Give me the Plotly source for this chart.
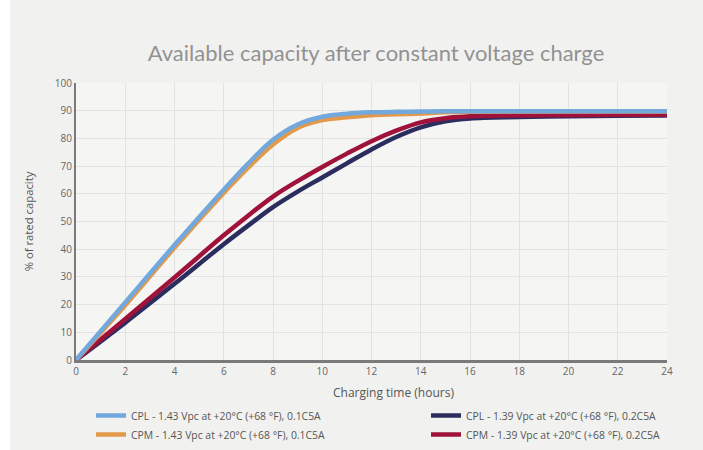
import plotly.graph_objects as go

hours_a = [0, 2, 4, 6, 7, 8, 9, 10, 11, 12, 13, 14, 15, 16, 18, 20, 22, 24]
cpl_143 = [0, 20.8, 41.5, 61.5, 71, 79.5, 85, 87.8, 88.9, 89.4, 89.6, 89.7, 89.8, 89.8, 89.8, 89.8, 89.8, 89.8]
cpm_143 = [0, 19.8, 40.5, 60.3, 69.5, 77.8, 83.8, 86.6, 87.6, 88.4, 88.7, 89.0, 89.4, 89.6, 89.7, 89.7, 89.7, 89.7]

hours_b = [0, 2, 4, 6, 7, 8, 9, 10, 11, 12, 13, 14, 15, 16, 18, 20, 22, 24]
cpl_139 = [0, 13.5, 27.5, 41.8, 48.6, 55.2, 60.8, 65.9, 71, 76, 80.5, 84, 86.2, 87.2, 87.7, 88.0, 88.2, 88.3]
cpm_139 = [0, 14.8, 29.8, 45, 52.2, 59.0, 64.6, 69.7, 74.5, 79, 82.8, 85.8, 87.3, 88.0, 88.3, 88.4, 88.5, 88.5]

names = {
    "cpl_143": "CPL - 1.43 Vpc at +20°C (+68 °F), 0.1C5A",
    "cpm_143": "CPM - 1.43 Vpc at +20°C (+68 °F), 0.1C5A",
    "cpl_139": "CPL - 1.39 Vpc at +20°C (+68 °F), 0.2C5A",
    "cpm_139": "CPM - 1.39 Vpc at +20°C (+68 °F), 0.2C5A",
}
x_ticks = list(range(0, 25, 2))
y_ticks = list(range(0, 101, 10))
x_title = "Charging time (hours)"
y_title = "% of rated capacity"
chart_title = "Available capacity after constant voltage charge"

fig = go.Figure()
def add(x, y, key, color, rank, legend):
    fig.add_trace(go.Scatter(x=x, y=y, mode="lines", name=names[key],
                             line=dict(color=color, width=4.5, shape="spline", smoothing=1.0),
                             legendrank=rank, legend=legend))

add(hours_b, cpl_139, "cpl_139", "#2b2d5e", 1, "legend2")
add(hours_b, cpm_139, "cpm_139", "#a0123a", 2, "legend2")
add(hours_a, cpm_143, "cpm_143", "#e3994a", 2, "legend")
add(hours_a, cpl_143, "cpl_143", "#72a8dc", 1, "legend")

PW, PH = 591, 277
leg_common = dict(orientation="v", xanchor="left", y=(360 - 401) / PH, yanchor="top", itemwidth=30,
                  font=dict(family="Open Sans", size=10.4, color="#555555"), bgcolor="rgba(0,0,0,0)",
                  traceorder="normal")
fig.update_layout(
    width=703, height=450,
    margin=dict(l=76, r=36, t=83, b=90, autoexpand=False),
    paper_bgcolor="#f1f1f0",
    plot_bgcolor="#f5f5f4",
    title=dict(text=chart_title,
               x=376 / 703, xanchor="center", y=1 - 53 / 450, yanchor="middle",
               font=dict(family="Lato", size=22, color="#929292")),
    font=dict(family="Open Sans", color="#666666"),
    xaxis=dict(range=[0, 24], tickvals=x_ticks, showgrid=True, gridcolor="#e2e2e2", gridwidth=1,
               zeroline=False, showline=True, linecolor="#7a7a7a", linewidth=3,
               tickfont=dict(size=10, color="#666666"), ticks=""),
    yaxis=dict(range=[0, 100], tickvals=y_ticks, showgrid=True, gridcolor="#e2e2e2", gridwidth=1,
               zeroline=False, showline=True, linecolor="#7a7a7a", linewidth=2,
               tickfont=dict(size=10, color="#666666"), ticks="",
               title=dict(text=y_title, font=dict(size=11.3, color="#555555"), standoff=19)),
    legend=dict(x=(91 - 76) / PW, **leg_common),
    legend2=dict(x=(426 - 76) / PW, **leg_common),
    showlegend=True,
)
fig.add_annotation(text=x_title, xref="paper", yref="paper", x=(393 - 76) / PW, y=(360 - 392) / PH,
                   xanchor="center", yanchor="middle", showarrow=False,
                   font=dict(family="Open Sans", size=12, color="#555555"))
fig.add_shape(type="rect", xref="paper", yref="paper", x0=-76 / PW, x1=-66 / PW, y0=-90 / PH, y1=1 + 83 / PH,
              fillcolor="white", line=dict(width=0), layer="below")

fig.write_html("out.html", config={"displayModeBar": False},
               post_script="document.body.style.margin='0px';document.body.style.overflow='hidden';")
